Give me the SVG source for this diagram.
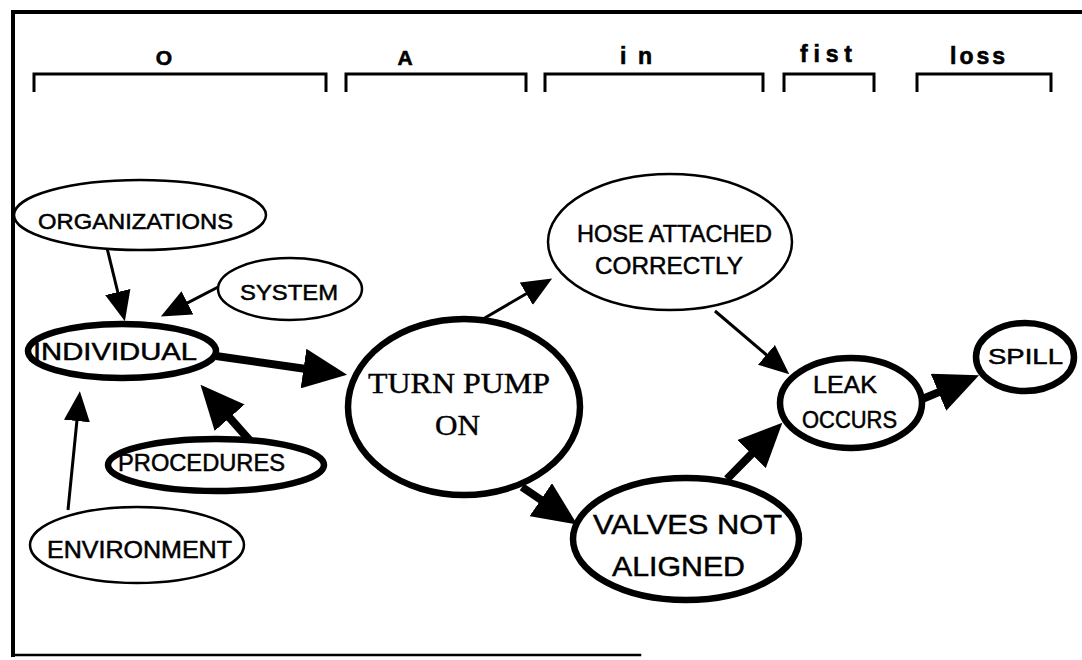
<svg xmlns="http://www.w3.org/2000/svg" width="1082" height="660" viewBox="0 0 1082 660">
<style>
.frame{fill:none;stroke:#000;stroke-linecap:square}
.br{fill:none;stroke:#000;stroke-width:3}
.hd{font-family:"Liberation Sans",Arial,sans-serif;font-weight:bold;fill:#000;stroke:#000;stroke-width:0.6}
.thin{fill:#fff;stroke:#000;stroke-width:2.5}
.thick{fill:#fff;stroke:#000;stroke-width:6.5}
.lbl{font-family:"Liberation Sans",Arial,sans-serif;fill:#000;stroke:#000;stroke-width:0.5}
.ser{font-family:"Liberation Serif","Times New Roman",serif;fill:#000;stroke:#000;stroke-width:0.4}
.cs{fill:none;stroke:#000;stroke-width:3}
.cl{fill:none;stroke:#000;stroke-width:8}
</style>
<defs>
<marker id="arS" markerUnits="userSpaceOnUse" markerWidth="30" markerHeight="26" viewBox="0 0 30 26" refX="1" refY="13" orient="auto"><path d="M0,0 L30,13 L0,26 z" fill="#000"/></marker>
<marker id="arL" markerUnits="userSpaceOnUse" markerWidth="44" markerHeight="40" viewBox="0 0 44 40" refX="1" refY="20" orient="auto"><path d="M0,0 L44,20 L0,40 z" fill="#000"/></marker>
</defs>
<rect width="1082" height="660" fill="#fff"/>
<g id="frame">
<line class="frame" x1="13" y1="12" x2="1082" y2="12" stroke-width="4"/>
<line class="frame" x1="13" y1="12" x2="13" y2="655" stroke-width="4"/>
<line class="frame" x1="13" y1="655" x2="640" y2="655" stroke-width="2.5"/>
</g>
<g id="headers">
<path class="br" d="M34,92 V74 H326 V92"/>
<path class="br" d="M346,92 V74 H526 V92"/>
<path class="br" d="M545,92 V74 H763 V92"/>
<path class="br" d="M784,92 V74 H874 V92"/>
<path class="br" d="M917,92 V74 H1051 V92"/>
<text class="hd" x="164" y="65" font-size="21" text-anchor="middle">O</text>
<text class="hd" x="405" y="65" font-size="21" text-anchor="middle">A</text>
<text class="hd" x="620" y="64" font-size="23" textLength="32" lengthAdjust="spacing">in</text>
<text class="hd" x="800" y="62" font-size="23" textLength="52" lengthAdjust="spacing">fist</text>
<text class="hd" x="950" y="64" font-size="23" textLength="55" lengthAdjust="spacing">loss</text>
</g>
<g id="connectors">
<line class="cs" x1="107" y1="248" x2="118" y2="293" marker-end="url(#arS)"/>
<line class="cs" x1="222" y1="285" x2="186.6" y2="303.3" marker-end="url(#arS)"/>
<line class="cs" x1="68" y1="510" x2="77" y2="420" stroke-width="2.5" marker-end="url(#arS)"/>
<line class="cl" x1="216" y1="356" x2="304.5" y2="368.7" marker-end="url(#arL)"/>
<line class="cl" x1="252" y1="443" x2="229" y2="417" marker-end="url(#arL)"/>
<line class="cs" x1="483" y1="319" x2="527.1" y2="293.2" marker-end="url(#arS)"/>
<line class="cl" x1="522" y1="487" x2="541.6" y2="500.3" marker-end="url(#arL)"/>
<line class="cs" x1="715" y1="311" x2="767.2" y2="355.5" marker-end="url(#arS)"/>
<line class="cl" x1="727" y1="479" x2="752.2" y2="453.4" marker-end="url(#arL)"/>
<line class="cl" x1="920" y1="400" x2="939.4" y2="391.9" marker-end="url(#arL)"/>
</g>
<g id="organizations">
<ellipse class="thin" cx="140" cy="215" rx="126" ry="35"/>
<text class="lbl" x="38" y="229" font-size="22" textLength="195" lengthAdjust="spacingAndGlyphs">ORGANIZATIONS</text>
</g>
<g id="system">
<ellipse class="thin" cx="290" cy="289" rx="72" ry="31"/>
<text class="lbl" x="240" y="300" font-size="22" textLength="98" lengthAdjust="spacingAndGlyphs">SYSTEM</text>
</g>
<g id="individual">
<ellipse class="thick" cx="122" cy="351" rx="94" ry="27"/>
<text class="lbl" x="33" y="360" font-size="24" textLength="164" lengthAdjust="spacingAndGlyphs">INDIVIDUAL</text>
</g>
<g id="procedures">
<ellipse class="thick" cx="216" cy="465" rx="108" ry="26"/>
<text class="lbl" x="118" y="471" font-size="24" textLength="167" lengthAdjust="spacingAndGlyphs">PROCEDURES</text>
</g>
<g id="environment">
<ellipse class="thin" cx="137" cy="545" rx="107" ry="38"/>
<text class="lbl" x="47" y="558" font-size="23" textLength="185" lengthAdjust="spacingAndGlyphs">ENVIRONMENT</text>
</g>
<g id="turn-pump-on">
<ellipse class="thick" cx="464" cy="407" rx="116" ry="88"/>
<text class="ser" x="368" y="393" font-size="29" textLength="182" lengthAdjust="spacingAndGlyphs">TURN PUMP</text>
<text class="ser" x="435" y="435" font-size="29" textLength="45" lengthAdjust="spacingAndGlyphs">ON</text>
</g>
<g id="hose-attached">
<ellipse class="thin" cx="670" cy="242" rx="122" ry="68"/>
<text class="lbl" x="577" y="242" font-size="24" textLength="195" lengthAdjust="spacingAndGlyphs">HOSE ATTACHED</text>
<text class="lbl" x="595" y="274" font-size="24" textLength="148" lengthAdjust="spacingAndGlyphs">CORRECTLY</text>
</g>
<g id="valves-not-aligned">
<ellipse class="thick" cx="686" cy="539" rx="113" ry="61"/>
<text class="lbl" x="593" y="534" font-size="28" textLength="189" lengthAdjust="spacingAndGlyphs">VALVES NOT</text>
<text class="lbl" x="612" y="576" font-size="28" textLength="133" lengthAdjust="spacingAndGlyphs">ALIGNED</text>
</g>
<g id="leak-occurs">
<ellipse class="thick" cx="851" cy="403" rx="71" ry="45"/>
<text class="lbl" x="813" y="393" font-size="23" textLength="64" lengthAdjust="spacingAndGlyphs">LEAK</text>
<text class="lbl" x="802" y="428" font-size="23" textLength="95" lengthAdjust="spacingAndGlyphs">OCCURS</text>
</g>
<g id="spill">
<ellipse class="thick" cx="1025" cy="357" rx="49" ry="34" stroke-width="5"/>
<text class="lbl" x="988" y="364" font-size="22" textLength="75" lengthAdjust="spacingAndGlyphs">SPILL</text>
</g>
</svg>
